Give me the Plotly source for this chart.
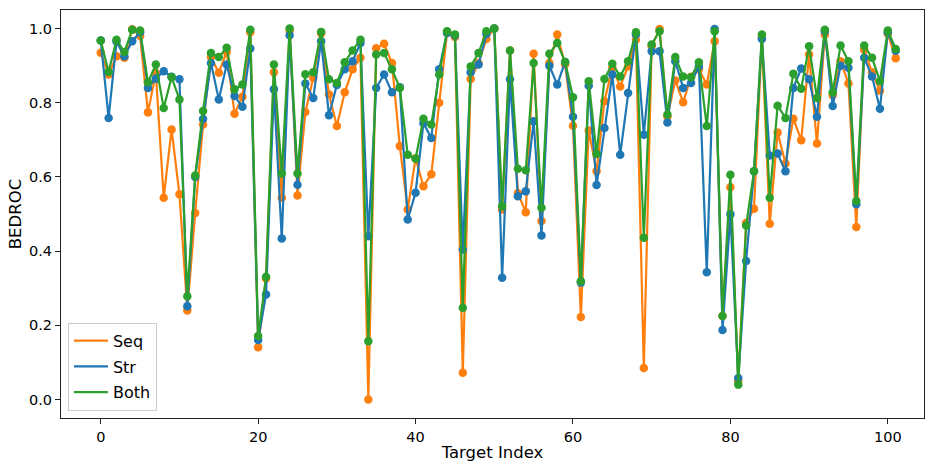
import plotly.graph_objects as go

target_index = list(range(102))

seq = [0.935, 0.876, 0.925, 0.921, 0.998, 0.980, 0.774, 0.880, 0.544, 0.728,
       0.553, 0.240, 0.503, 0.741, 0.923, 0.881, 0.937, 0.770, 0.816, 0.990,
       0.141, 0.326, 0.882, 0.544, 0.995, 0.550, 0.775, 0.867, 0.987, 0.822,
       0.737, 0.828, 0.890, 0.921, 0.000, 0.947, 0.959, 0.907, 0.683, 0.512,
       0.650, 0.575, 0.607, 0.800, 0.988, 0.977, 0.072, 0.864, 0.907, 0.972,
       1.000, 0.512, 0.941, 0.556, 0.505, 0.932, 0.481, 0.907, 0.984, 0.903,
       0.738, 0.222, 0.725, 0.615, 0.804, 0.894, 0.844, 0.898, 0.970, 0.085,
       0.952, 0.999, 0.763, 0.860, 0.801, 0.870, 0.890, 0.849, 0.966, 0.225,
       0.572, 0.050, 0.476, 0.514, 0.975, 0.474, 0.720, 0.636, 0.757, 0.699,
       0.930, 0.690, 0.984, 0.820, 0.912, 0.852, 0.465, 0.943, 0.882, 0.832,
       0.986, 0.920]

struct = [0.968, 0.759, 0.965, 0.925, 0.966, 0.990, 0.840, 0.865, 0.885, 0.870,
          0.863, 0.251, 0.600, 0.756, 0.907, 0.809, 0.903, 0.818, 0.789, 0.946,
          0.160, 0.283, 0.836, 0.434, 0.982, 0.579, 0.852, 0.813, 0.966, 0.766,
          0.848, 0.890, 0.912, 0.961, 0.440, 0.840, 0.876, 0.828, 0.842, 0.485,
          0.557, 0.745, 0.705, 0.890, 0.988, 0.981, 0.404, 0.882, 0.903, 0.985,
          1.000, 0.328, 0.863, 0.548, 0.561, 0.750, 0.442, 0.900, 0.849, 0.910,
          0.762, 0.315, 0.846, 0.578, 0.732, 0.876, 0.660, 0.826, 0.984, 0.714,
          0.939, 0.939, 0.747, 0.912, 0.840, 0.853, 0.898, 0.343, 0.999, 0.187,
          0.499, 0.058, 0.373, 0.615, 0.972, 0.658, 0.663, 0.615, 0.840, 0.892,
          0.863, 0.762, 0.993, 0.791, 0.900, 0.894, 0.526, 0.921, 0.871, 0.784,
          0.990, 0.940]

both = [0.968, 0.883, 0.970, 0.937, 0.997, 0.995, 0.855, 0.903, 0.786, 0.869,
        0.809, 0.278, 0.604, 0.778, 0.934, 0.923, 0.948, 0.836, 0.849, 0.997,
        0.171, 0.331, 0.903, 0.609, 1.000, 0.609, 0.877, 0.882, 0.991, 0.863,
        0.853, 0.909, 0.941, 0.970, 0.157, 0.930, 0.934, 0.890, 0.840, 0.660,
        0.649, 0.757, 0.741, 0.876, 0.993, 0.984, 0.247, 0.898, 0.934, 0.993,
        1.000, 0.521, 0.941, 0.622, 0.618, 0.907, 0.517, 0.932, 0.961, 0.910,
        0.815, 0.319, 0.858, 0.662, 0.864, 0.905, 0.871, 0.912, 0.990, 0.436,
        0.957, 0.993, 0.768, 0.923, 0.871, 0.869, 0.909, 0.737, 0.993, 0.225,
        0.606, 0.040, 0.469, 0.615, 0.984, 0.544, 0.792, 0.759, 0.878, 0.838,
        0.952, 0.813, 0.997, 0.828, 0.954, 0.912, 0.535, 0.954, 0.921, 0.858,
        0.995, 0.945]

series_names = ["Seq", "Str", "Both"]
series_values = [seq, struct, both]
series_colors = ["#ff7f0e", "#1f77b4", "#2ca02c"]

x_ticks = [0, 20, 40, 60, 80, 100]
y_ticks = [0.0, 0.2, 0.4, 0.6, 0.8, 1.0]

fig = go.Figure()
for name, vals, col in zip(series_names, series_values, series_colors):
    fig.add_trace(go.Scatter(
        x=target_index, y=vals, mode="lines", name=name,
        line=dict(color=col, width=2.2), legendgroup=name,
    ))
    fig.add_trace(go.Scatter(
        x=target_index, y=vals, mode="markers", name=name,
        marker=dict(color=col, size=8.5), legendgroup=name, showlegend=False,
    ))

axis_common = dict(
    showgrid=False, zeroline=False, showline=True, linecolor="#222",
    linewidth=1.2, mirror=True, ticks="outside", ticklen=5, tickwidth=1.2,
    tickcolor="#222", automargin=False,
    tickfont=dict(family="DejaVu Sans", size=14.5, color="#000"),
)

fig.update_layout(
    width=925, height=462,
    margin=dict(l=61, r=1, t=10, b=44),
    paper_bgcolor="white", plot_bgcolor="white",
    font=dict(family="DejaVu Sans", color="#000"),
    xaxis=dict(range=[-5.05, 104.6], tickvals=x_ticks,
               ticktext=[str(v) for v in x_ticks],
               title=dict(text="Target Index", font=dict(size=16.5), standoff=2),
               **axis_common),
    yaxis=dict(range=[-0.05, 1.05], tickvals=y_ticks,
               ticktext=[f"{v:.1f}" for v in y_ticks],
               title=dict(text="BEDROC", font=dict(size=16.5), standoff=3),
               **axis_common),
    legend=dict(x=0.008, y=0.018, xanchor="left", yanchor="bottom",
                bgcolor="rgba(255,255,255,0.85)", bordercolor="#cccccc",
                borderwidth=1, font=dict(size=16, family="DejaVu Sans"),
                itemwidth=34, tracegroupgap=2),
    showlegend=True,
)

fig.write_html("out.html", config={"displayModeBar": False},
               post_script="document.body.style.margin='0';document.body.style.overflow='hidden';")
